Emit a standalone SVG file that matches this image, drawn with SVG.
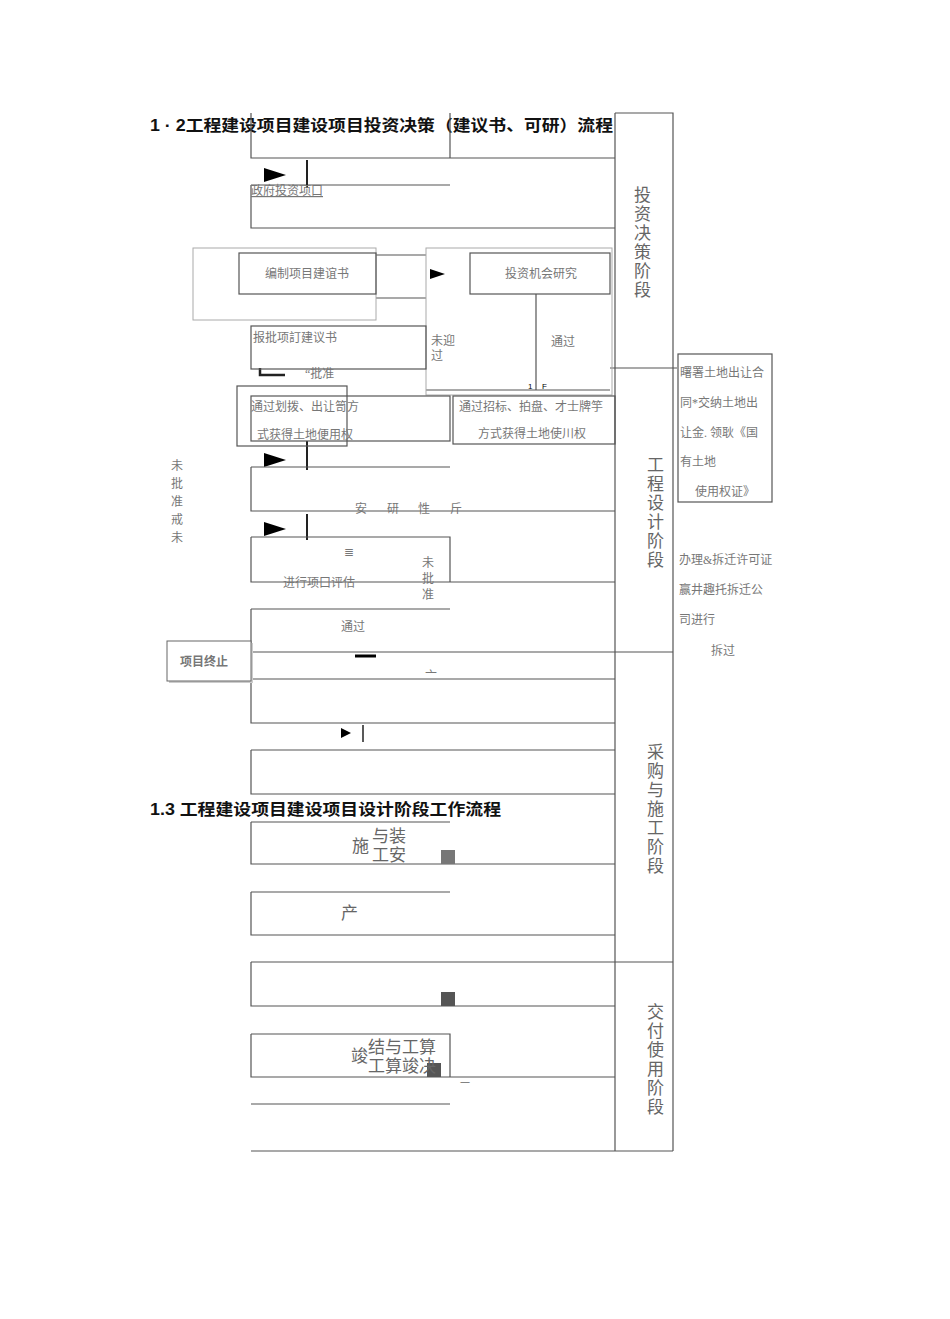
<svg xmlns="http://www.w3.org/2000/svg" width="950" height="1319" viewBox="0 0 950 1319">
<style>
.l{stroke:#555;stroke-width:1.2;fill:none}
.lg{stroke:#aaa;stroke-width:1;fill:none}
.t{font-family:"Liberation Serif","Noto Sans CJK SC",serif;font-size:12px;fill:#777}
.s{font-family:"DejaVu Sans","Noto Sans CJK SC",sans-serif;font-size:17px;fill:#666}
.b{font-family:"Liberation Sans","Noto Sans CJK SC",sans-serif;font-size:16px;font-weight:bold;fill:#111}
.ar{fill:#000}
</style>
<rect width="950" height="1319" fill="#fff"/>
<g id="frame">
<path class="l" d="M615 113H673V1151M615 113V1151M251 1151H673"/>
<path class="l" d="M610 368H677M251 652H673M251 962H673"/>
</g>
<g id="titles">
<text class="b" x="150" y="131" textLength="463" lengthAdjust="spacingAndGlyphs">1 · 2工程建设项目建设项目投资决策（建议书、可研）流程</text>
<text class="b" x="150" y="815" textLength="351" lengthAdjust="spacingAndGlyphs">1.3 工程建设项目建设项目设计阶段工作流程</text>
</g>
<g id="stages" class="s">
<text x="634" y="201">投</text><text x="634" y="220">资</text><text x="634" y="239">决</text><text x="634" y="258">策</text><text x="634" y="277">阶</text><text x="634" y="296">段</text>
<text x="647" y="471">工</text><text x="647" y="490">程</text><text x="647" y="509">设</text><text x="647" y="528">计</text><text x="647" y="547">阶</text><text x="647" y="566">段</text>
<text x="647" y="758">采</text><text x="647" y="777">购</text><text x="647" y="796">与</text><text x="647" y="815">施</text><text x="647" y="834">工</text><text x="647" y="853">阶</text><text x="647" y="872">段</text>
<text x="647" y="1018">交</text><text x="647" y="1037">付</text><text x="647" y="1056">使</text><text x="647" y="1075">用</text><text x="647" y="1094">阶</text><text x="647" y="1113">段</text>
</g>
<g id="connectors">
<path class="l" d="M251 113V158H615M450 113V158M251 185H450M251 185V228H615"/>
<path class="ar" d="M264 168L286 175L264 182Z"/>
<path d="M307 160V188" stroke="#222" stroke-width="2"/>
<path class="l" d="M376 255H426M376 298H426"/>
<path class="ar" d="M430 269L445 274L430 279Z"/>
<path class="l" d="M536 294V390M426 390H610"/>
<path d="M260 368V375H285" stroke="#222" stroke-width="2.5" fill="none"/>
<path class="ar" d="M264 453L286 460L264 467Z"/>
<path d="M307 441V470" stroke="#222" stroke-width="2"/>
<path class="l" d="M251 467H450M251 467V511H615"/>
<path class="ar" d="M264 522L286 529L264 536Z"/>
<path d="M307 514V540" stroke="#222" stroke-width="2"/>
<path class="l" d="M251 537H450V582M251 537V582H615"/>
<path class="l" d="M251 609H450M251 609V652"/>
<path d="M355 656H376" stroke="#000" stroke-width="3"/>
<path class="l" d="M251 679H615M251 679V723H615"/>
<path class="ar" d="M341 728L351 733L341 738Z"/>
<path d="M363 725V742" stroke="#222" stroke-width="1.5"/>
<path class="l" d="M251 750H615M251 750V794H615"/>
<path class="l" d="M251 822H450M251 822V864H615"/>
<path class="l" d="M251 892H450M251 892V935H615"/>
<path class="l" d="M251 962V1006H615"/>
<path class="l" d="M251 1034H450V1077M251 1034V1077H615M251 1104H450"/>
<rect x="441" y="850" width="14" height="14" fill="#777"/>
<rect x="441" y="992" width="14" height="14" fill="#555"/>
<rect x="427" y="1063" width="14" height="14" fill="#555"/>
</g>
<g id="n-gov"><text class="t" x="251" y="195" font-size="13" fill="#555" text-decoration="underline">政府投资项口</text></g>
<g id="n-bianzhi">
<rect x="193" y="248" width="183" height="72" class="lg"/>
<rect x="239" y="253" width="137" height="41" class="l"/>
<text class="t" x="307" y="278" text-anchor="middle">编制项目建谊书</text>
</g>
<g id="n-touzi">
<rect x="426" y="248" width="186" height="147" class="lg"/>
<rect x="470" y="253" width="140" height="41" class="l"/>
<text class="t" x="541" y="278" text-anchor="middle" fill="#333">投资机会研究</text>
<text class="t" x="431" y="345">未迎</text><text class="t" x="431" y="360">过</text>
<text class="t" x="551" y="346">通过</text>
<text x="528" y="389" font-family="Liberation Sans,sans-serif" font-size="8">1</text>
<text x="542" y="389" font-family="Liberation Sans,sans-serif" font-size="8">F</text>
</g>
<g id="n-baopi">
<rect x="251" y="326" width="175" height="43" class="l"/>
<text class="t" x="253" y="342">报批项訂建议书</text>
<text class="t" x="305" y="378" font-size="14" fill="#333">“批准</text>
</g>
<g id="n-huabo">
<rect x="237" y="386" width="110" height="60" class="l"/>
<rect x="251" y="396" width="199" height="45" class="l"/>
<text class="t" x="251" y="411">通过划拨、出让笥方</text>
<text class="t" x="257" y="439">式获得土地便用权</text>
</g>
<g id="n-zhaobiao">
<rect x="453" y="396" width="162" height="48" class="l"/>
<text class="t" x="459" y="411">通过招标、拍盘、才士牌竽</text>
<text class="t" x="478" y="438">方式获得土地使川权</text>
</g>
<g id="n-kyan"><text class="t" x="355" y="513">安</text><text class="t" x="387" y="513">研</text><text class="t" x="418" y="513">性</text><text class="t" x="450" y="513">斤</text></g>
<g id="n-pinggu">
<text class="t" x="344" y="556" font-size="14" fill="#444">≣</text>
<text class="t" x="283" y="587">进行项口评估</text>
<text class="t" x="422" y="567" font-size="13">未</text><text class="t" x="422" y="583" font-size="13">批</text><text class="t" x="422" y="599" font-size="13">准</text>
</g>
<g id="n-tongguo"><text class="t" x="341" y="631">通过</text><text class="t" x="425" y="680">亠</text></g>
<g id="n-stop">
<rect x="169" y="643" width="84" height="40" fill="#ccc"/>
<rect x="167" y="641" width="84" height="40" fill="#fff" stroke="#666"/>
<text class="t" x="180" y="666" font-size="14" fill="#444" font-weight="bold">项目终止</text>
</g>
<g id="n-left" class="t" font-size="13">
<text x="171" y="470">未</text><text x="171" y="488">批</text><text x="171" y="506">准</text><text x="171" y="524">戒</text><text x="171" y="542">未</text>
</g>
<g id="n-shigong" class="s" font-size="16">
<text x="352" y="852">施</text><text x="372" y="842">与装</text><text x="372" y="861">工安</text>
</g>
<g id="n-chan"><text class="s" x="341" y="919" font-size="15">产</text></g>
<g id="n-jungong" class="s" font-size="16">
<text x="351" y="1062">竣</text><text x="368" y="1053">结与工算</text><text x="368" y="1072">工算竣决</text>
<text x="460" y="1087" font-size="10">一</text>
</g>
<g id="n-tudi">
<rect x="678" y="354" width="94" height="148" class="l" stroke="#777"/>
<text class="t" x="680" y="377">曙署土地出让合</text>
<text class="t" x="680" y="407">同*交纳土地出</text>
<text class="t" x="680" y="437">让金. 领耿《国</text>
<text class="t" x="680" y="466">有土地</text>
<text class="t" x="695" y="496">使用权证》</text>
</g>
<g id="n-chaiqian">
<text class="t" x="679" y="564">办理&amp;拆迁许可证</text>
<text class="t" x="679" y="594">赢井趣托拆迁公</text>
<text class="t" x="679" y="624">司进行</text>
<text class="t" x="711" y="655">拆过</text>
</g>
</svg>
